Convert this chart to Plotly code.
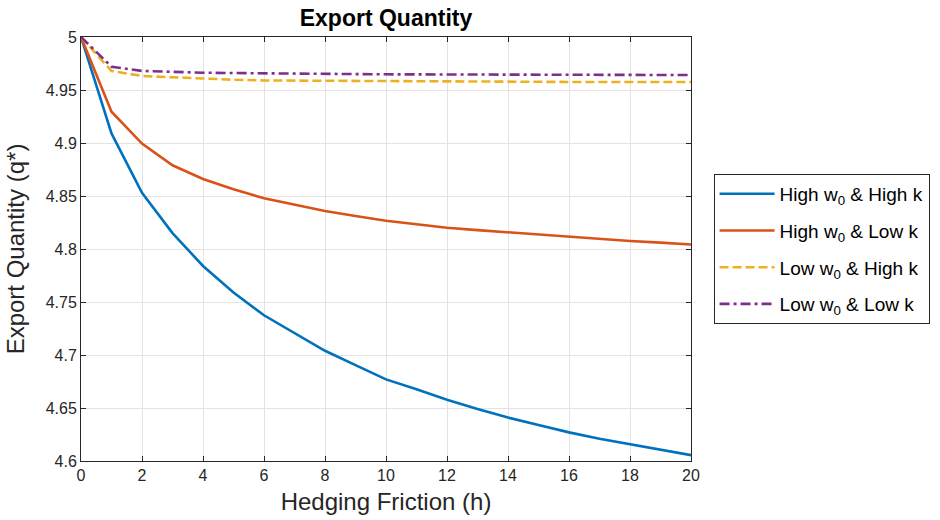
import plotly.graph_objects as go

# Hedging friction grid
h = list(range(0, 21))

# Optimal export quantity q* for each parameter combination
high_w0_high_k = [5.0, 4.909, 4.853, 4.815, 4.784, 4.759, 4.7375, 4.7205, 4.704, 4.6905,
                  4.677, 4.6676, 4.6578, 4.649, 4.641, 4.634, 4.627, 4.621, 4.616, 4.6105, 4.6055]
high_w0_low_k = [5.0, 4.9295, 4.8995, 4.879, 4.866, 4.8563, 4.8478, 4.8415, 4.8358, 4.8311,
                 4.8267, 4.8233, 4.8201, 4.8178, 4.8157, 4.8133, 4.811, 4.8092, 4.8075, 4.806, 4.8042]
low_w0_high_k = [5.0, 4.968, 4.9632, 4.962, 4.9605, 4.9597, 4.959, 4.9588, 4.9585, 4.9583,
                 4.9582, 4.958, 4.9579, 4.9578, 4.9577, 4.9577, 4.9576, 4.9576, 4.9575, 4.9575, 4.9575]
low_w0_low_k = [5.0, 4.972, 4.968, 4.967, 4.9663, 4.966, 4.9656, 4.9653, 4.965, 4.965,
                4.9648, 4.9647, 4.9646, 4.9645, 4.9644, 4.9644, 4.9643, 4.9643, 4.9642, 4.9642, 4.9641]

names = ["High w<sub>0</sub> & High k", "High w<sub>0</sub> & Low k",
         "Low w<sub>0</sub> & High k", "Low w<sub>0</sub> & Low k"]
colors = ["#0072BD", "#D95319", "#EDB120", "#7E2F8E"]
dashes = ["solid", "solid", "9px,4px", "10px,4px,3px,4px"]
series = [high_w0_high_k, high_w0_low_k, low_w0_high_k, low_w0_low_k]

y_ticks = [4.6, 4.65, 4.7, 4.75, 4.8, 4.85, 4.9, 4.95, 5.0]
y_ticklabels = ["4.6", "4.65", "4.7", "4.75", "4.8", "4.85", "4.9", "4.95", "5"]
x_ticks = list(range(0, 21, 2))

FONT = "Liberation Sans, Arial, Helvetica, sans-serif"
AX = "#262626"

fig = go.Figure()
for i, (name, col, dsh, ys) in enumerate(zip(names, colors, dashes, series)):
    fig.add_trace(go.Scatter(x=h, y=ys, mode="lines", name=name, legendgroup=f"g{i}",
                             line=dict(color=col, width=2.6, dash=dsh)))

axis_common = dict(
    showline=True, linecolor=AX, linewidth=1, mirror="ticks",
    ticks="inside", ticklen=5, tickcolor=AX, tickwidth=1,
    showgrid=True, gridcolor="#e3e3e3", gridwidth=1, zeroline=False,
    tickfont=dict(family=FONT, size=16, color=AX),
)

fig.update_xaxes(range=[0, 20], tickvals=x_ticks, ticktext=[str(t) for t in x_ticks],
                 title=dict(text="Hedging Friction (h)", font=dict(family=FONT, size=24, color=AX),
                            standoff=9),
                 **axis_common)
fig.update_yaxes(range=[4.6, 5.0], tickvals=y_ticks, ticktext=y_ticklabels,
                 title=dict(text="Export Quantity (q*)", font=dict(family=FONT, size=24, color=AX),
                            standoff=14),
                 **axis_common)

fig.update_layout(
    width=940, height=520,
    margin=dict(l=81, r=249, t=37, b=59, autoexpand=False),
    paper_bgcolor="white", plot_bgcolor="white",
    title=dict(text="<b>Export Quantity</b>", x=0.5, xref="paper", xanchor="center",
               y=1, yref="container", yanchor="top", pad=dict(t=10),
               font=dict(family=FONT, size=23, color="black")),
    legend=dict(x=1.037, y=0.677, xanchor="left", yanchor="top",
                bgcolor="white", bordercolor=AX, borderwidth=1,
                font=dict(family=FONT, size=19, color="black"),
                itemwidth=55, tracegroupgap=9),
    showlegend=True,
)

fig.write_html("out.html")
